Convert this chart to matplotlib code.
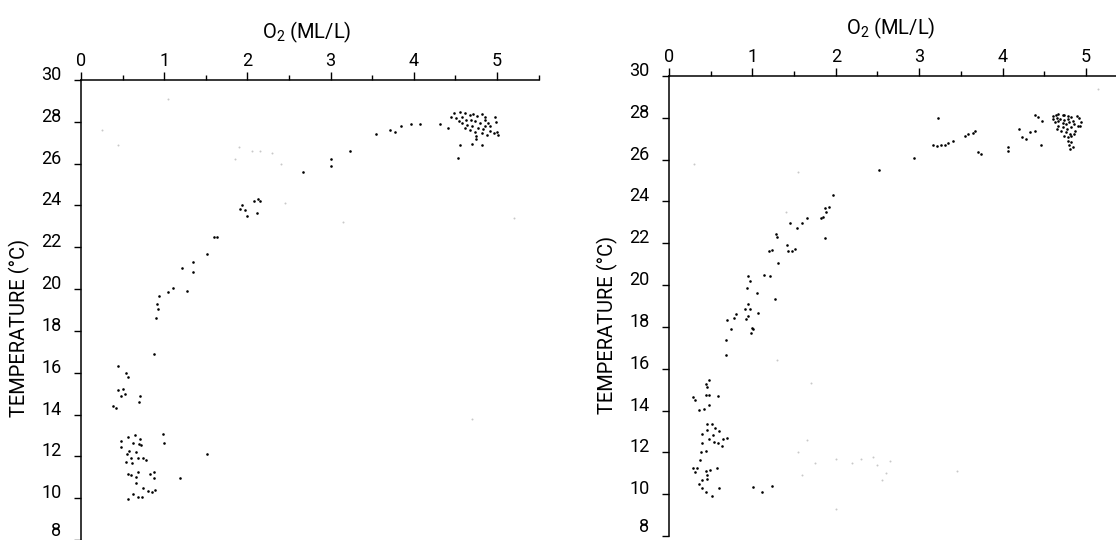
import matplotlib
matplotlib.use("Agg")
import matplotlib.pyplot as plt
from matplotlib.ticker import MultipleLocator

plt.rcParams['font.family'] = ['Roboto', 'DejaVu Sans']
plt.rcParams['mathtext.fontset'] = 'custom'
plt.rcParams['mathtext.rm'] = 'Roboto'

# ---------------- data ----------------
x_label = "O$_2$ (ML/L)"
y_label = "TEMPERATURE (°C)"
x_ticks = [0, 1, 2, 3, 4, 5]
y_ticks = [8, 10, 12, 14, 16, 18, 20, 22, 24, 26, 28, 30]

# left panel
left_o2 = [
    # surface cluster
    4.48, 4.55, 4.61, 4.67, 4.71, 4.76, 4.82, 4.86, 4.45, 4.51, 4.58, 4.63,
    4.69, 4.74, 4.80, 4.85, 4.89, 4.97, 4.99, 4.58, 4.64, 4.70, 4.77, 4.83,
    4.92, 4.96, 5.00, 4.67, 4.73, 4.62, 4.82, 4.88, 4.75, 4.54, 5.01, 4.92,
    4.86, 4.70, 4.75, 4.82, 4.55, 4.53,
    # upper curve
    4.41, 4.31, 4.07, 3.97, 3.85, 3.77, 3.71, 3.54, 3.23, 3.00, 3.00, 2.67,
    # ~24 degC group
    1.94, 1.91, 1.97, 2.00, 2.11, 2.08, 2.13, 2.15,
    # thermocline
    1.60, 1.63, 1.51, 1.35, 1.21, 1.35, 1.11, 1.05, 1.28, 0.94, 0.91, 0.93,
    0.90, 0.88,
    # 14-16 degC group
    0.45, 0.54, 0.57, 0.45, 0.50, 0.48, 0.53, 0.71, 0.70, 0.39, 0.42,
    # 10-13 degC group
    0.56, 0.65, 0.71, 0.70, 0.63, 0.48, 0.48, 0.72, 0.98, 1.00, 0.58, 0.55,
    0.54, 0.60, 0.61, 0.66, 0.69, 0.75, 0.78, 1.51, 0.56, 0.60, 0.69, 0.66,
    0.83, 0.88, 0.88, 0.66, 1.19, 0.63, 0.68, 0.73, 0.74, 0.80, 0.85, 0.89,
    0.57,
]
left_temp = [
    28.41, 28.49, 28.44, 28.33, 28.37, 28.29, 28.38, 28.25, 28.22, 28.17, 28.22, 28.10,
    28.10, 28.02, 27.94, 28.10, 27.94, 28.22, 27.97, 27.94, 27.86, 27.78, 27.70, 27.65,
    27.54, 27.46, 27.51, 27.62, 27.49, 27.70, 27.46, 27.38, 27.30, 28.06, 27.38, 27.78,
    27.78, 26.95, 27.17, 26.87, 26.90, 26.27,
    27.70, 27.90, 27.90, 27.90, 27.80, 27.50, 27.60, 27.40, 26.60, 26.20, 25.90, 25.60,
    24.00, 23.84, 23.80, 23.50, 23.65, 24.20, 24.30, 24.20,
    22.50, 22.50, 21.70, 21.30, 21.00, 20.80, 20.03, 19.84, 19.90, 19.65, 19.30, 19.05,
    18.60, 16.90,
    16.30, 16.00, 15.80, 15.16, 15.24, 14.90, 15.00, 14.90, 14.60, 14.40, 14.30,
    12.93, 13.01, 12.82, 12.57, 12.62, 12.73, 12.46, 12.54, 13.06, 12.66, 12.25, 12.12,
    11.74, 11.90, 11.66, 12.20, 11.90, 11.90, 11.85, 12.12, 11.14, 11.11, 11.24, 11.00,
    11.14, 11.25, 10.95, 10.71, 10.98, 10.20, 10.08, 10.08, 10.47, 10.32, 10.28, 10.38,
    9.95,
]
left_faint_o2 = [1.90, 2.05, 2.15, 2.30, 2.40, 1.85, 2.45, 0.25, 1.05, 3.15, 5.20, 4.70, 0.45]
left_faint_temp = [26.80, 26.60, 26.60, 26.50, 26.00, 26.20, 24.10, 27.60, 29.10, 23.20, 23.40, 13.80, 26.90]

# right panel
right_o2 = [
    # surface cluster
    4.60, 4.64, 4.67, 4.72, 4.74, 4.78, 4.82, 4.89, 4.92, 4.94, 4.61, 4.65,
    4.69, 4.74, 4.78, 4.84, 4.63, 4.67, 4.72, 4.76, 4.80, 4.86, 4.91, 4.67,
    4.73, 4.77, 4.82, 4.87, 4.70, 4.76, 4.81, 4.86, 4.74, 4.79, 4.82, 4.78,
    4.82, 4.80, 4.84, 4.81, 4.93, 4.65,
    # upper curve
    4.39, 4.43, 4.47, 4.20, 4.23, 4.28, 4.33, 4.39, 4.46, 4.06, 4.06,
    3.71, 3.74, 3.55, 3.58, 3.65, 3.67, 3.23, 3.16, 3.21, 3.26, 3.31, 3.35,
    3.40, 2.94, 2.52,
    # thermocline
    1.97, 1.92, 1.87, 1.88, 1.82, 1.85, 1.87, 1.66, 1.60, 1.54, 1.45, 1.51,
    1.48, 1.43, 1.42, 1.28, 1.29, 1.24, 1.20, 1.31,
    0.95, 0.97, 0.93, 1.14, 1.21, 1.06, 1.27, 0.95, 0.91, 0.97, 0.92, 0.95,
    1.07, 0.80, 0.78, 0.69, 0.74, 0.99, 0.98, 1.01, 0.68, 0.68,
    # 14-15.5 degC group
    0.48, 0.44, 0.46, 0.29, 0.31, 0.44, 0.48, 0.59, 0.48, 0.42, 0.36,
    # 10-13.5 degC group
    0.51, 0.45, 0.55, 0.40, 0.46, 0.53, 0.60, 0.70, 0.48, 0.54, 0.59, 0.63,
    0.39, 0.44, 0.38, 0.37, 0.29, 0.34, 0.31, 0.44, 0.49, 0.46, 0.45, 0.40,
    0.36, 0.39, 0.44, 0.51, 0.60, 0.58, 0.65,
    1.01, 1.11, 1.24,
]
right_temp = [
    28.10, 28.15, 28.18, 28.12, 28.15, 28.10, 28.05, 28.10, 27.99, 27.78, 27.94, 27.99,
    27.94, 27.89, 27.94, 27.86, 27.78, 27.83, 27.73, 27.70, 27.78, 27.70, 27.62, 27.62,
    27.54, 27.46, 27.54, 27.38, 27.35, 27.31, 27.23, 27.23, 27.15, 27.07, 27.15, 26.91,
    26.83, 26.72, 26.59, 26.51, 27.62, 27.46,
    28.14, 28.05, 27.86, 27.46, 27.07, 26.99, 27.34, 27.38, 26.72, 26.60, 26.43,
    26.35, 26.28, 27.15, 27.23, 27.26, 27.38, 28.00, 26.72, 26.67, 26.70, 26.72, 26.78,
    26.91, 26.07, 25.52,
    24.30, 23.74, 23.71, 23.50, 23.19, 23.27, 22.27, 23.19, 22.98, 22.71, 22.98, 21.72,
    21.65, 21.65, 21.92, 22.44, 22.29, 21.68, 21.65, 21.08,
    20.42, 20.19, 19.87, 20.50, 20.45, 19.60, 19.35, 19.08, 18.87, 18.87, 18.40, 18.52,
    18.68, 18.60, 18.44, 18.33, 17.89, 17.97, 17.73, 17.89, 17.38, 16.67,
    15.44, 15.28, 15.12, 14.64, 14.49, 14.72, 14.72, 14.68, 14.28, 14.09, 14.01,
    13.38, 13.38, 13.17, 12.87, 13.06, 12.82, 13.01, 12.70, 12.63, 12.51, 12.43, 12.32,
    12.43, 12.06, 12.00, 11.63, 11.24, 11.27, 11.08, 11.11, 11.16, 10.92, 10.72, 10.68,
    10.48, 10.29, 10.10, 9.92, 10.29, 11.27, 12.63,
    10.32, 10.10, 10.37,
]
right_faint_o2 = [1.55, 1.75, 2.00, 2.20, 2.30, 2.45, 2.50, 2.55, 2.60, 1.60, 3.45,
                  2.00, 0.30, 1.55, 1.30, 1.65, 5.15, 1.70, 2.65, 1.40]
right_faint_temp = [12.00, 11.50, 11.70, 11.50, 11.70, 11.80, 11.40, 10.70, 11.00, 10.90, 11.10,
                    9.30, 25.80, 25.40, 16.40, 12.60, 29.40, 15.30, 11.60, 23.50]

# ---------------- figure ----------------
W, H = 1116, 540
fig = plt.figure(figsize=(W / 100, H / 100), dpi=100)

panels = [
    # (rect, xlim, o2, temp, faint_o2, faint_temp, xlabel pos, ylabel pos)
    ([81 / W, 0 / H, 457.6 / W, 460 / H], (0, 5.5),
     left_o2, left_temp, left_faint_o2, left_faint_temp, (0.494, 1.09), (-0.111, 0.461)),
    ([669 / W, 4 / H, 447 / W, 460 / H], (0, 5.36),
     right_o2, right_temp, right_faint_o2, right_faint_temp, (0.497, 1.09), (-0.114, 0.459)),
]

for rect, xl, xo, yt, fx, fy, xlpos, ylpos in panels:
    ax = fig.add_axes(rect)
    ax.scatter(fx, fy, s=2, c='#c8c8c8', marker='o', linewidths=0, clip_on=False)
    ax.scatter(xo, yt, s=3.5, c='black', marker='o', linewidths=0, clip_on=False)
    ax.set_xlim(*xl)
    ax.set_ylim(8, 30)
    for side in ('right', 'bottom'):
        ax.spines[side].set_visible(False)
    for side in ('left', 'top'):
        ax.spines[side].set_linewidth(1.1)
        ax.spines[side].set_color('black')
    ax.xaxis.tick_top()
    ax.set_xticks(x_ticks)
    ax.set_xticklabels([str(t) for t in x_ticks])
    ax.xaxis.set_minor_locator(MultipleLocator(0.5))
    ax.set_yticks(y_ticks)
    ax.set_yticklabels([str(t) for t in y_ticks])
    ax.tick_params(axis='x', which='major', direction='out', length=5.8, width=1.0,
                   pad=1.5, labelsize=13, top=True, bottom=False)
    ax.tick_params(axis='x', which='minor', direction='out', length=3.6, width=1.0,
                   top=True, bottom=False)
    ax.tick_params(axis='y', which='major', direction='out', length=5, width=1.0,
                   pad=9, labelsize=13)
    ylabs = ax.get_yticklabels()
    for lab in ylabs:
        lab.set_verticalalignment('baseline')
    ylabs[0].set_verticalalignment('bottom')
    ax.set_xlabel(x_label, fontsize=14.5)
    ax.xaxis.set_label_position('top')
    ax.xaxis.set_label_coords(*xlpos)
    ax.set_ylabel(y_label, fontsize=14.5)
    ax.yaxis.set_label_coords(*ylpos)
    ax.patch.set_alpha(0)

fig.savefig("out.png", dpi=100)
